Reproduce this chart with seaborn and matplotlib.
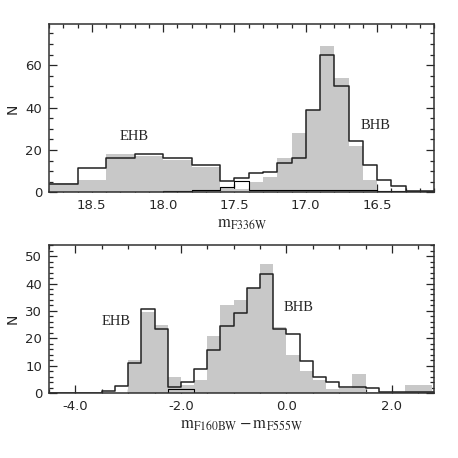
import numpy as np
import pandas as pd
import matplotlib.pyplot as plt
import seaborn as sns
from matplotlib.ticker import MultipleLocator, FormatStrFormatter

# top panel: m_F336W histograms (bin edges run faint -> bright)
f336_edges = [18.8, 18.6, 18.4, 18.2, 18.0, 17.8, 17.6, 17.5, 17.4, 17.3, 17.2,
              17.1, 17.0, 16.9, 16.8, 16.7, 16.6, 16.5, 16.4, 16.3, 16.2, 16.1]
f336_line = [4, 11.3, 16, 18, 16.3, 13, 5.5, 7, 9, 9.4, 13.7,
             16.3, 38.8, 65, 50.2, 24, 12.9, 5.8, 3.1, 0.6, 0.6]
f336_gray = [4.3, 6, 18, 17, 15.5, 12, 2.5, 1.5, 5, 7.4, 16,
             28, 39, 69, 54, 22, 5.8, 0, 0, 0, 0]
f336_small = [0, 0, 0, 0, 0.5, 1.2, 2.5, 5.5, 1.2, 1.2, 1.2,
              1.2, 1.2, 1.2, 1.2, 1.0, 1.0, 0.6, 0.5, 0.5, 0.5]

# bottom panel: m_F160BW - m_F555W histograms
col_edges = [-4.5, -4.25, -4.0, -3.75, -3.5, -3.25, -3.0, -2.75, -2.5, -2.25,
             -2.0, -1.75, -1.5, -1.25, -1.0, -0.75, -0.5, -0.25, 0.0, 0.25,
             0.5, 0.75, 1.0, 1.25, 1.5, 1.75, 2.0, 2.25, 2.5, 2.75, 3.0]
col_line = [0, 0, 0, 0.3, 1, 2.8, 11.2, 30.7, 23.3, 2.4,
            4.2, 9, 15.7, 24.7, 29.1, 38.3, 43.4, 23.3, 21.5, 11.7,
            5.8, 4.3, 2.5, 2.2, 1.8, 0.6, 0.6, 0.6, 0.6, 0.6]
col_gray = [0, 0, 0, 0, 0, 0, 12, 29.5, 25, 6,
            3, 5, 21, 32, 34, 38.5, 47, 24, 14, 8,
            5, 1.5, 2, 7, 0.5, 0.5, 0.5, 3, 3, 1]
col_small = [0, 0, 0, 0, 0, 0, 0, 0, 0, 1.6,
             1.5, 0, 0, 0, 0, 0, 0, 0, 0, 0,
             0, 0, 0, 0, 0, 0, 0, 0, 0, 0]

sns.set_style('ticks')
plt.rcParams['font.family'] = ['DejaVu Sans']
plt.rcParams['mathtext.fontset'] = 'stix'

fig = plt.figure(figsize=(4.58, 4.58), dpi=100)
ax1 = fig.add_axes([0.107, 0.580, 0.841, 0.367])
ax2 = fig.add_axes([0.107, 0.141, 0.841, 0.324])


def panel(ax, edges, gray, line, small):
    # values follow edge order; flip if edges were given descending
    if edges[0] > edges[-1]:
        edges = edges[::-1]
        gray, line, small = gray[::-1], line[::-1], small[::-1]
    centers = [(a + b) / 2 for a, b in zip(edges[:-1], edges[1:])]
    df = pd.DataFrame({'x': centers, 'gray': gray, 'line': line, 'small': small})
    sns.histplot(data=df, x='x', weights='gray', bins=list(edges), element='step',
                 fill=True, color='#c8c8c8', alpha=1, linewidth=0, ax=ax)
    sns.histplot(data=df, x='x', weights='small', bins=list(edges), element='step',
                 fill=False, color='black', linewidth=0.8, ax=ax)
    sns.histplot(data=df, x='x', weights='line', bins=list(edges), element='step',
                 fill=False, color='#202020', linewidth=1.1, ax=ax)


panel(ax1, f336_edges, f336_gray, f336_line, f336_small)
panel(ax2, col_edges, col_gray, col_line, col_small)

ax1.set_xlim(18.8, 16.1)
ax1.set_ylim(0, 79.3)
ax1.xaxis.set_major_locator(MultipleLocator(0.5))
ax1.xaxis.set_minor_locator(MultipleLocator(0.1))
ax1.yaxis.set_major_locator(MultipleLocator(20))
ax1.yaxis.set_minor_locator(MultipleLocator(5))
ax1.xaxis.set_major_formatter(FormatStrFormatter('%.1f'))
ax1.set_xlabel(r'$\mathrm{m}_{\mathrm{F336W}}$', fontsize=12, labelpad=1)
ax1.text(18.2, 26.5, 'EHB', family='Liberation Serif', fontsize=10.5,
         ha='center', va='center')
ax1.text(16.51, 31.5, 'BHB', family='Liberation Serif', fontsize=10.5,
         ha='center', va='center')

ax2.set_xlim(-4.5, 2.8)
ax2.set_ylim(0, 54)
ax2.xaxis.set_major_locator(MultipleLocator(2))
ax2.xaxis.set_minor_locator(MultipleLocator(0.5))
ax2.yaxis.set_major_locator(MultipleLocator(10))
ax2.yaxis.set_minor_locator(MultipleLocator(2))
ax2.xaxis.set_major_formatter(FormatStrFormatter('%.1f'))
ax2.set_xlabel(r'$\mathrm{m}_{\mathrm{F160BW}}-\mathrm{m}_{\mathrm{F555W}}$',
               fontsize=12, labelpad=1)
ax2.text(-3.22, 26.2, 'EHB', family='Liberation Serif', fontsize=10.5,
         ha='center', va='center')
ax2.text(0.23, 31.3, 'BHB', family='Liberation Serif', fontsize=10.5,
         ha='center', va='center')

for ax in (ax1, ax2):
    ax.set_ylabel('N', fontsize=10, labelpad=4)
    ax.tick_params(which='both', top=True, right=True, direction='in',
                   labelsize=9.5, width=0.9, pad=5)
    ax.tick_params(which='major', length=6)
    ax.tick_params(which='minor', length=3)
    for s in ax.spines.values():
        s.set_linewidth(1.1)
        s.set_color('#303030')

fig.savefig('out.png', dpi=100)
